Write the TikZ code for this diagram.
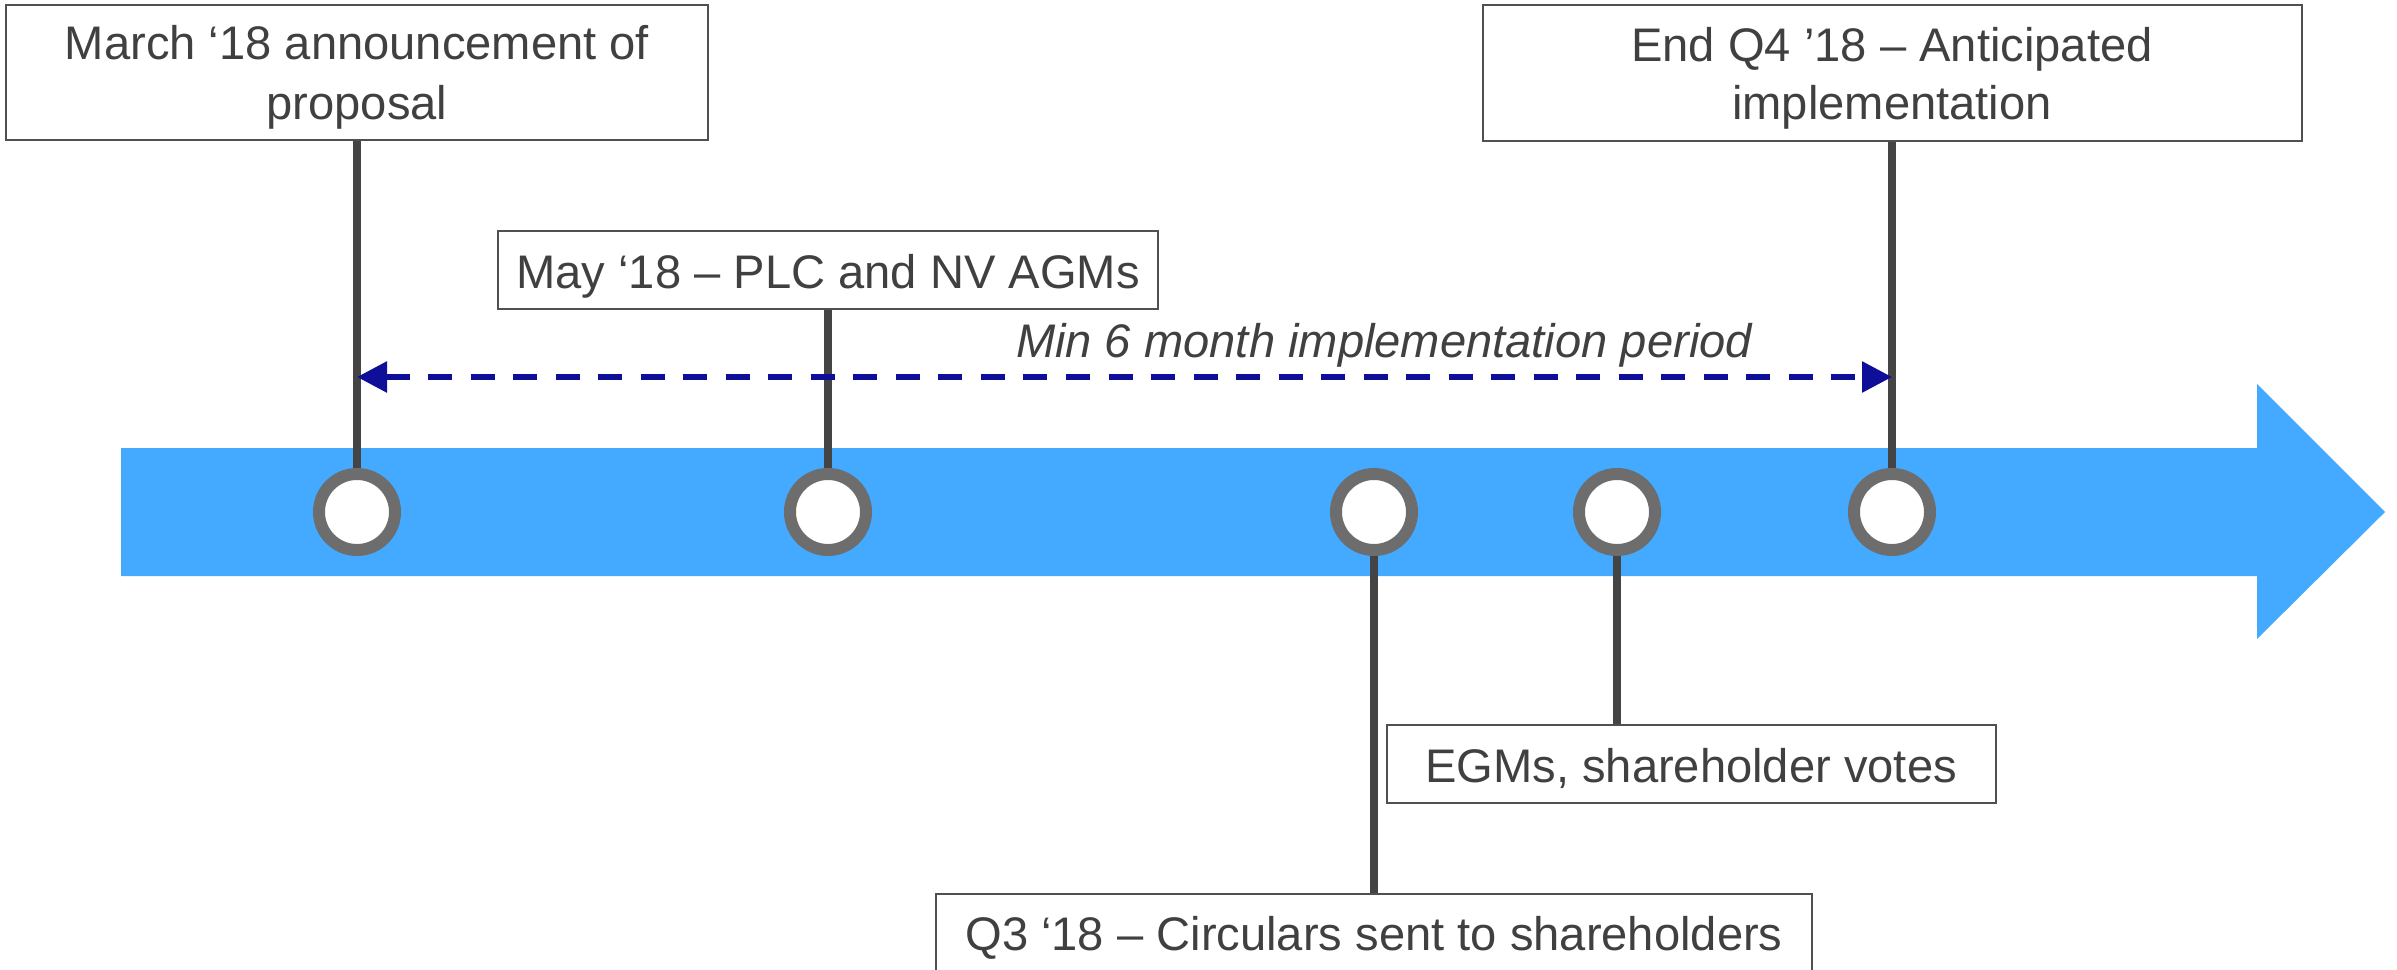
\documentclass[tikz,border=0pt]{standalone}
\usepackage{fontspec}
\setmainfont{Liberation Sans}
\usetikzlibrary{arrows.meta}
\definecolor{txtgray}{RGB}{64,64,64}
\definecolor{bandblue}{RGB}{68,170,255}
\definecolor{ringgray}{RGB}{109,109,109}
\definecolor{stemgray}{RGB}{68,68,68}
\definecolor{navyd}{RGB}{14,14,153}
\definecolor{boxline}{RGB}{80,80,80}
\begin{document}
\begin{tikzpicture}[x=0.01cm,y=-0.01cm,
  evbox/.style={draw=boxline,line width=0.02cm,fill=white,inner sep=0pt},
  dot/.style={circle,draw=ringgray,line width=0.12cm,fill=white,minimum size=0.76cm,inner sep=0pt},
  stemline/.style={draw=stemgray,line width=0.075cm},
  lbl/.style={anchor=base,inner sep=0pt,text=txtgray,font=\fontsize{13.4pt}{17pt}\selectfont},
  period/.style={navyd,line width=0.057cm,dash pattern=on 0.24cm off 0.185cm,
    {Triangle[length=0.3cm,width=0.3cm]}-{Triangle[length=0.3cm,width=0.3cm]}}
]
\useasboundingbox (0,0) rectangle (2397,970);
\clip (0,0) rectangle (2397,970);

% timeline band
\fill[bandblue] (121,448) -- (2257,448) -- (2257,384) -- (2385,512) -- (2257,639) -- (2257,576) -- (121,576) -- cycle;

% boxes
\node[evbox,minimum width=7.02cm,minimum height=1.35cm] (bm) at (357,72.5) {};
\node[evbox,minimum width=8.19cm,minimum height=1.36cm] (be) at (1892.5,73) {};
\node[evbox,minimum width=6.60cm,minimum height=0.78cm] (bmay) at (828,270) {};
\node[evbox,minimum width=6.09cm,minimum height=0.78cm] (begm) at (1691.5,764) {};
\node[evbox,minimum width=8.76cm,minimum height=0.78cm] (bq3) at (1374,933) {};

% milestones
\node[dot] (c1) at (357,512) {};
\node[dot] (c2) at (828,512) {};
\node[dot] (c3) at (1374,512) {};
\node[dot] (c4) at (1617,512) {};
\node[dot] (c5) at (1892,512) {};

% stems
\draw[stemline] (bm.south) -- (c1.north);
\draw[stemline] (bmay.south -| c2.north) -- (c2.north);
\draw[stemline] (be.south -| c5.north) -- (c5.north);
\draw[stemline] (c3.south) -- (c3.south |- bq3.north);
\draw[stemline] (c4.south) -- (c4.south |- begm.north);

% implementation period
\path (c1.center) ++(0,-135) coordinate (pl);
\path (c5.center) ++(0,-135) coordinate (pr);
\draw[period] (pl) -- (pr);

% texts
\node[lbl] (tm1) at (357,60) {March ‘18 announcement of};
\node[lbl] (tm2) at (357,120) {proposal};
\node[lbl] (te1) at (1892,62) {End Q4 ’18 – Anticipated};
\node[lbl] (te2) at (1892,120) {implementation};
\node[lbl] (tmay) at (828,288) {May ‘18 – PLC and NV AGMs};
\node[lbl] (tegm) at (1691,782) {EGMs, shareholder votes};
\node[lbl] (tq3) at (1374,950) {Q3 ‘18 – Circulars sent to shareholders};
\node[lbl,font=\fontsize{13.4pt}{17pt}\selectfont\itshape] (tmin) at (1384,357) {Min 6 month implementation period};
\end{tikzpicture}
\end{document}
